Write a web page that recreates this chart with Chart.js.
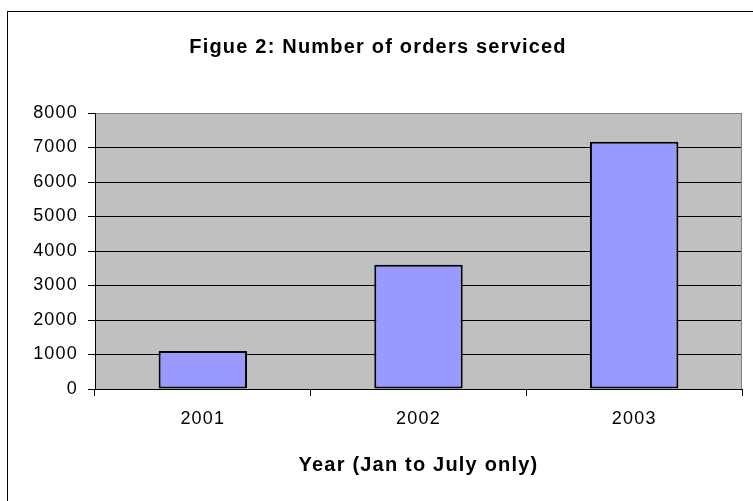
<!DOCTYPE html>
<html>
<head>
<meta charset="utf-8">
<script src="https://cdn.jsdelivr.net/npm/chart.js@4/dist/chart.umd.min.js"></script>
<style>
html,body{margin:0;padding:0;background:#fff;}
canvas{display:block;}
</style>
</head>
<body>
<canvas id="c" width="753" height="501"></canvas>
<script>
const categories = ['2001', '2002', '2003'];
const orders = [1100, 3600, 7170];
const yTickValues = [0, 1000, 2000, 3000, 4000, 5000, 6000, 7000, 8000];
const chartTitle = 'Figue 2: Number of orders serviced';
const xAxisTitle = 'Year (Jan to July only)';

const FONT = '"Liberation Sans", Arial, sans-serif';
const SPACING = '1.2px';

const spacingPlugin = {
  id: 'spacing',
  beforeLayout(c) { c.ctx.letterSpacing = SPACING; },
  beforeDraw(c) { c.ctx.letterSpacing = SPACING; }
};

const framePlugin = {
  id: 'frame',
  afterLayout(c) {
    if (c.titleBlock) { c.titleBlock.left += 7; c.titleBlock.right += 7; }
  },
  beforeDraw(c) {
    const ctx = c.ctx, a = c.chartArea;
    ctx.save();
    ctx.fillStyle = '#ffffff';
    ctx.fillRect(0, 0, c.width, c.height);
    ctx.fillStyle = '#C0C0C0';
    ctx.fillRect(a.left, a.top, a.right - a.left, a.bottom - a.top);
    ctx.strokeStyle = '#000000';
    ctx.lineWidth = 1;
    ctx.strokeRect(7.5, 11.5, 800, 600);
    ctx.restore();
  },
  beforeDatasetsDraw(c) {
    const ctx = c.ctx, a = c.chartArea;
    ctx.save();
    ctx.strokeStyle = '#808080';
    ctx.lineWidth = 1;
    ctx.beginPath();
    ctx.moveTo(a.right - 0.5, a.top);
    ctx.lineTo(a.right - 0.5, a.bottom);
    ctx.stroke();
    ctx.restore();
  }
};

new Chart(document.getElementById('c'), {
  type: 'bar',
  data: {
    labels: categories,
    datasets: [{
      data: orders,
      backgroundColor: '#9999FF',
      borderColor: '#000000',
      borderWidth: 2,
      borderSkipped: false,
      barPercentage: 0.41,
      categoryPercentage: 1.0
    }]
  },
  options: {
    responsive: false,
    animation: false,
    devicePixelRatio: 1,
    layout: { padding: { left: 0, right: 11, top: 0, bottom: 0 } },
    plugins: {
      legend: { display: false },
      tooltip: { enabled: false },
      title: {
        display: true,
        text: chartTitle,
        color: '#000',
        font: { family: FONT, size: 20, weight: 'bold', lineHeight: 1.2 },
        padding: { top: 35, bottom: 54 }
      }
    },
    scales: {
      x: {
        offset: true,
        grid: { display: true, drawOnChartArea: false, drawTicks: true, tickLength: 7, tickColor: '#000', offset: true },
        border: { display: true, color: '#000', width: 1 },
        ticks: { color: '#000', font: { family: FONT, size: 18, lineHeight: 1.2 }, padding: 12, maxRotation: 0 },
        title: {
          display: true,
          text: xAxisTitle,
          color: '#000',
          font: { family: FONT, size: 20, weight: 'bold', lineHeight: 1.2 },
          padding: { top: 0, bottom: 24 }
        },
        afterFit(s) { s.height = 112; }
      },
      y: {
        min: 0,
        max: 8000,
        afterBuildTicks(s) { s.ticks = yTickValues.map(v => ({ value: v })); },
        grid: {
          color: (ctx) => (ctx.tick && ctx.tick.value === 8000) ? '#808080' : '#000',
          lineWidth: 1,
          drawTicks: true,
          tickLength: 7,
          tickColor: '#000'
        },
        border: { display: true, color: '#000', width: 1 },
        ticks: {
          color: '#000',
          font: { family: FONT, size: 18, lineHeight: 1.2 },
          padding: 10,
          callback: (v) => String(v)
        },
        afterFit(s) { s.width = 95; }
      }
    }
  },
  plugins: [spacingPlugin, framePlugin]
});
</script>
</body>
</html>
